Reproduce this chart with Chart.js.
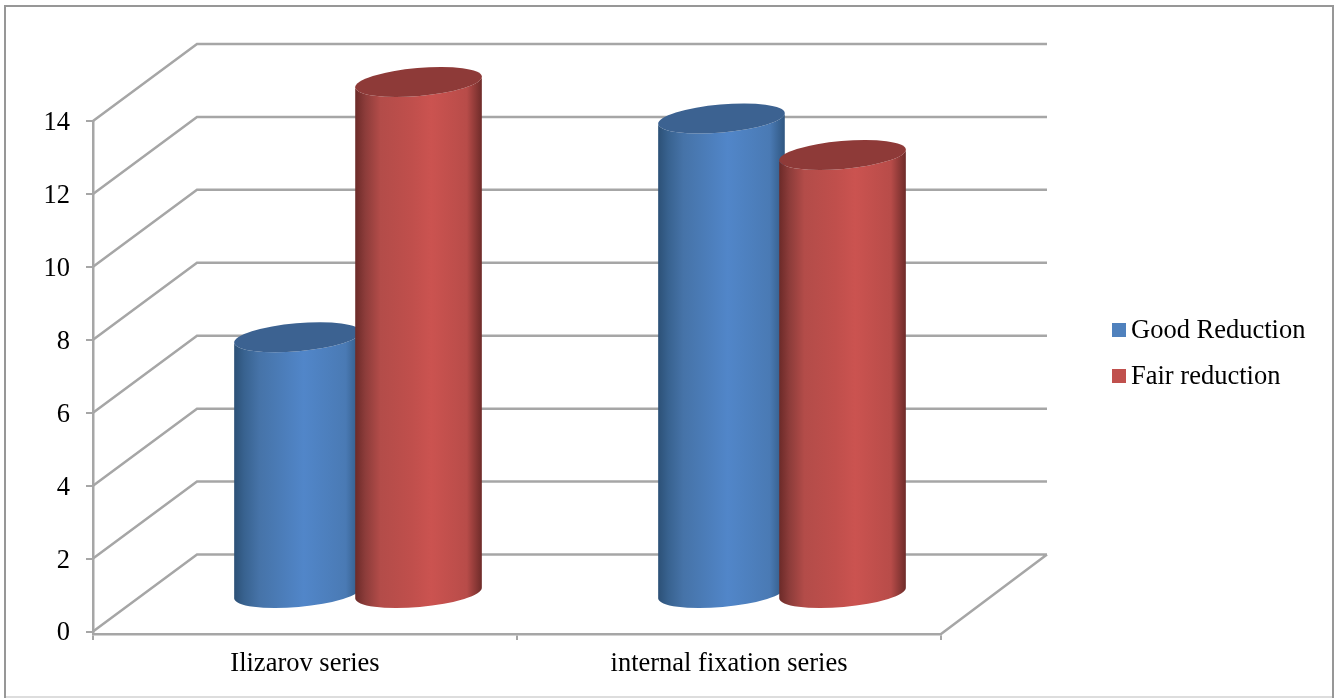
<!DOCTYPE html>
<html>
<head>
<meta charset="utf-8">
<title>Reduction by series</title>
<script src="https://cdn.jsdelivr.net/npm/chart.js@4/dist/chart.umd.min.js"></script>
<style>
    html, body { margin: 0; padding: 0; background: #fff; }
    canvas { display: block; }
</style>
</head>
<body>
<canvas id="reduction-chart" width="1338" height="698"></canvas>
<script>
// Chart data
var categories = ["Ilizarov series", "internal fixation series"];
var seriesNames = ["Good Reduction", "Fair reduction"];
var goodReduction = [7, 13];
var fairReduction = [14, 12];
var seriesColors = ["#4f81bd", "#c0504d"];

// Colors of the cylinders: side shading and flat cap
var sideStops = [
    [[0, "#2c5076"], [0.08, "#38628f"], [0.2, "#4673a8"], [0.55, "#5186c9"], [0.88, "#4a7ab4"], [1, "#2f5680"]],
    [[0, "#6b2a28"], [0.08, "#8c3c3a"], [0.2, "#b34c49"], [0.45, "#c04f4c"], [0.6, "#cb5350"], [0.88, "#b84c49"], [1, "#6d2b29"]]
];
var capColors = ["#3c6291", "#8e3a38"];

var FONT = { family: "'Liberation Serif', 'Times New Roman', serif", size: 26.5 };
var LINE_COLOR = "#a6a6a6";

// Depth of the fake 3d box, and how far back the cylinders stand in it
var DEPTH_X_LEFT = 104;
var DEPTH_X_RIGHT = 106;
var DEPTH_Y = 77;
var BAR_SHIFT_X = 53;
var BAR_BASE_SHIFT_Y = 37.5;
var BAR_TOP_SHIFT_Y = 39;
var CAP_RY = 14;
var CAP_TILT = -5 * Math.PI / 180;

/**
 * Outer frame around the whole chart
 */
var framePlugin = {
    id: "frame",
    beforeDraw: function (chart) {
        let ctx = chart.ctx;
        ctx.save();
        ctx.lineWidth = 2;
        ctx.strokeStyle = "#dddddd";
        ctx.beginPath();
        ctx.moveTo(5, 697);
        ctx.lineTo(1333, 697);
        ctx.stroke();
        ctx.strokeStyle = "#979797";
        ctx.beginPath();
        ctx.moveTo(5, 698);
        ctx.lineTo(5, 6);
        ctx.lineTo(1333, 6);
        ctx.lineTo(1333, 698);
        ctx.stroke();
        ctx.restore();
    }
};

/**
 * Walls and floor of the box, built from the axis ticks
 */
var wallsPlugin = {
    id: "walls",
    afterLayout: function (chart) {
        // the category axis sits a little under the zero tick
        chart.scales.x.top += 2.5;
        chart.scales.x.bottom += 2.5;

        // value labels hang slightly below their tick marks
        chart.scales.y.getLabelItems().forEach(function (item) {
            item.options.translation[1] += 2;
        });
    },
    beforeDatasetsDraw: function (chart) {
        let ctx = chart.ctx,
            xScale = chart.scales.x,
            yScale = chart.scales.y,
            left = xScale.left,
            right = xScale.right;

        ctx.save();
        ctx.lineWidth = 2.5;
        ctx.strokeStyle = LINE_COLOR;
        ctx.beginPath();
        for (let tick of yScale.ticks) {
            let y = yScale.getPixelForValue(tick.value);
            ctx.moveTo(left, y);
            ctx.lineTo(left + DEPTH_X_LEFT, y - DEPTH_Y);
            ctx.lineTo(right + DEPTH_X_RIGHT, y - DEPTH_Y);
        }
        // right edge of the floor
        let zero = yScale.getPixelForValue(0);
        ctx.moveTo(right, xScale.top);
        ctx.lineTo(right + DEPTH_X_RIGHT, zero - DEPTH_Y);
        ctx.stroke();
        ctx.restore();
    }
};

/**
 * One cylinder, from a bar element's position on the scales
 */
function drawCylinder(ctx, bar, datasetIndex) {
    let cx = bar.x + BAR_SHIFT_X,
        rx = bar.width / 2,
        baseY = bar.base - BAR_BASE_SHIFT_Y,
        topY = bar.y - BAR_TOP_SHIFT_Y;

    let gradient = ctx.createLinearGradient(cx - rx, 0, cx + rx, 0);
    for (let stop of sideStops[datasetIndex]) {
        gradient.addColorStop(stop[0], stop[1]);
    }

    ctx.fillStyle = gradient;
    ctx.beginPath();
    ctx.ellipse(cx, baseY, rx, CAP_RY, CAP_TILT, 0, Math.PI, false);
    ctx.ellipse(cx, topY, rx, CAP_RY, CAP_TILT, Math.PI, 0, true);
    ctx.closePath();
    ctx.fill();

    ctx.fillStyle = capColors[datasetIndex];
    ctx.beginPath();
    ctx.ellipse(cx, topY, rx, CAP_RY, CAP_TILT, 0, Math.PI * 2);
    ctx.fill();
}

/**
 * Replace the flat bars with cylinders, left to right so the
 * second series overlaps the first one
 */
var cylinderPlugin = {
    id: "cylinders",
    beforeDatasetDraw: function () {
        return false;
    },
    afterDatasetsDraw: function (chart) {
        let ctx = chart.ctx;
        ctx.save();
        categories.forEach(function (name, i) {
            seriesNames.forEach(function (series, d) {
                drawCylinder(ctx, chart.getDatasetMeta(d).data[i], d);
            });
        });
        ctx.restore();
    }
};

/**
 * Legend on the right, the swatch sits closer to the text than the built-in one
 */
var sideLegendPlugin = {
    id: "sideLegend",
    afterDraw: function (chart) {
        let ctx = chart.ctx;
        ctx.save();
        ctx.font = FONT.size + "px " + FONT.family;
        ctx.textBaseline = "middle";
        ctx.textAlign = "left";
        chart.data.datasets.forEach(function (dataset, i) {
            let y = 330 + i * 46;
            ctx.fillStyle = dataset.backgroundColor;
            ctx.fillRect(1112, y - 7, 14, 14);
            ctx.fillStyle = "#000";
            ctx.fillText(dataset.label, 1131, y + 1);
        });
        ctx.restore();
    }
};

var ctx = document.getElementById("reduction-chart");
var chart = new Chart(ctx, {
    type: "bar",
    data: {
        labels: categories,
        datasets: [
            { label: seriesNames[0], data: goodReduction, backgroundColor: seriesColors[0] },
            { label: seriesNames[1], data: fairReduction, backgroundColor: seriesColors[1] }
        ]
    },
    options: {
        responsive: false,
        animation: false,
        // 1.05 makes the neighbouring cylinders overlap
        categoryPercentage: 0.571,
        barPercentage: 1.05,
        layout: {
            padding: { top: 121, right: 397, bottom: 0, left: 0 }
        },
        plugins: {
            legend: { display: false },
            tooltip: { enabled: false }
        },
        scales: {
            x: {
                afterFit: function (scale) {
                    scale.height = 66.5;
                },
                grid: {
                    offset: true,
                    drawOnChartArea: false,
                    tickLength: 6,
                    color: LINE_COLOR,
                    lineWidth: 2
                },
                border: { color: LINE_COLOR, width: 2.5 },
                ticks: { color: "#000", font: FONT, padding: 8, maxRotation: 0 }
            },
            y: {
                min: 0,
                max: 14,
                afterFit: function (scale) {
                    scale.width = 93;
                },
                grid: {
                    drawOnChartArea: false,
                    tickLength: 7,
                    color: LINE_COLOR,
                    lineWidth: 2
                },
                border: { color: LINE_COLOR, width: 2.5 },
                ticks: { color: "#000", font: FONT, stepSize: 2, padding: 16 }
            }
        }
    },
    plugins: [framePlugin, wallsPlugin, cylinderPlugin, sideLegendPlugin]
});
</script>
</body>
</html>
